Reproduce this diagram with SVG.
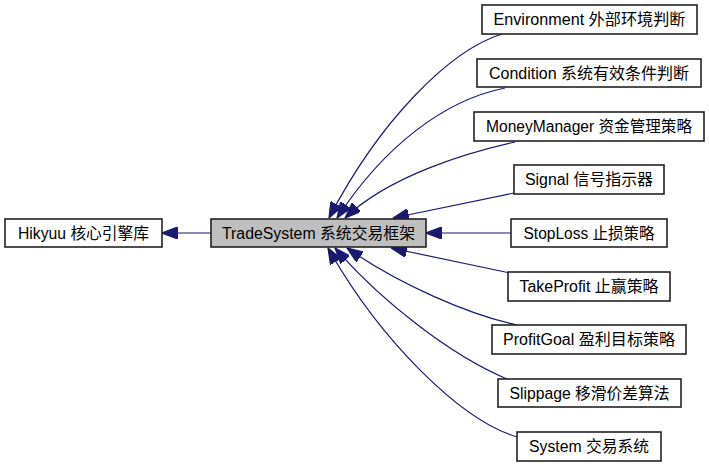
<svg xmlns="http://www.w3.org/2000/svg" width="709" height="467" viewBox="0 0 709 467">
<style>
.box{fill:#fff;stroke:#222;stroke-width:1.6}
.hl{fill:#bfbfbf}
.lbl{font-family:"Liberation Sans","Noto Sans CJK SC",sans-serif;font-size:16px;fill:#000;text-anchor:middle}
.edge{fill:none;stroke:#191970;stroke-width:1.2;marker-end:url(#ah)}
</style>
<defs>
<marker id="ah" markerUnits="userSpaceOnUse" markerWidth="16" markerHeight="12" refX="13" refY="5" orient="auto" viewBox="0 0 13 10">
<path d="M0,0 L13,5 L0,10 z" fill="#191970" stroke="#191970" stroke-width="1"/>
</marker>
</defs>
<rect width="709" height="467" fill="#fff"/>
<g id="connectors">
<path class="edge" d="M211,233 L162,233"/>
<path class="edge" d="M502,34 C450,50 380,120 329,218"/>
<path class="edge" d="M505,88 C445,100 385,145 337,218"/>
<path class="edge" d="M515,142 C470,152 390,175 345,218"/>
<path class="edge" d="M514,193 L393,218"/>
<path class="edge" d="M511,233 L426,233"/>
<path class="edge" d="M510,273 L391,248"/>
<path class="edge" d="M517,325 C470,315 400,285 347,248"/>
<path class="edge" d="M507,379 C450,355 380,300 335,248"/>
<path class="edge" d="M517,437 C460,420 380,340 328,248"/>
</g>
<g id="hikyuu"><rect class="box" x="5" y="219" width="157" height="28"/><text class="lbl" x="83.5" y="238.5" textLength="131" lengthAdjust="spacingAndGlyphs">Hikyuu 核心引擎库</text></g>
<g id="tradesystem"><rect class="box hl" x="211" y="219" width="215" height="28"/><text class="lbl" x="318.5" y="238.5" textLength="193" lengthAdjust="spacingAndGlyphs">TradeSystem 系统交易框架</text></g>
<g id="environment"><rect class="box" x="482" y="5" width="215" height="29"/><text class="lbl" x="589.5" y="24.5" textLength="192" lengthAdjust="spacingAndGlyphs">Environment 外部环境判断</text></g>
<g id="condition"><rect class="box" x="477" y="59" width="224" height="28"/><text class="lbl" x="589" y="78.5" textLength="200" lengthAdjust="spacingAndGlyphs">Condition 系统有效条件判断</text></g>
<g id="moneymanager"><rect class="box" x="474" y="112" width="230" height="29"/><text class="lbl" x="589" y="131.5" textLength="206" lengthAdjust="spacingAndGlyphs">MoneyManager 资金管理策略</text></g>
<g id="signal"><rect class="box" x="514" y="165" width="150" height="29"/><text class="lbl" x="589" y="184.5" textLength="128" lengthAdjust="spacingAndGlyphs">Signal 信号指示器</text></g>
<g id="stoploss"><rect class="box" x="511" y="219" width="156" height="28"/><text class="lbl" x="589" y="238.5" textLength="131" lengthAdjust="spacingAndGlyphs">StopLoss 止损策略</text></g>
<g id="takeprofit"><rect class="box" x="508" y="272" width="162" height="29"/><text class="lbl" x="589" y="291.5" textLength="139" lengthAdjust="spacingAndGlyphs">TakeProfit 止赢策略</text></g>
<g id="profitgoal"><rect class="box" x="492" y="325" width="194" height="29"/><text class="lbl" x="589" y="344.5" textLength="172" lengthAdjust="spacingAndGlyphs">ProfitGoal 盈利目标策略</text></g>
<g id="slippage"><rect class="box" x="498" y="379" width="183" height="28"/><text class="lbl" x="589.5" y="398.5" textLength="160" lengthAdjust="spacingAndGlyphs">Slippage 移滑价差算法</text></g>
<g id="system"><rect class="box" x="517" y="432" width="144" height="29"/><text class="lbl" x="589" y="451.5" textLength="120" lengthAdjust="spacingAndGlyphs">System 交易系统</text></g>
</svg>
